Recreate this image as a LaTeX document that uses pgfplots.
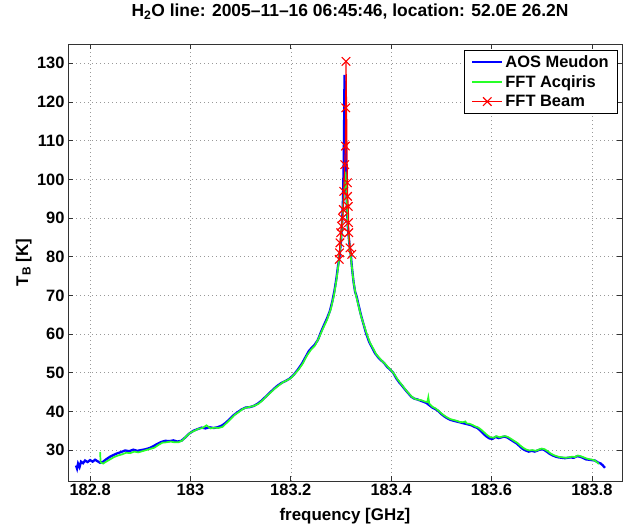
\documentclass[border=0pt]{standalone}
\usepackage{fontspec}
\setmainfont{Liberation Sans}
\usepackage{pgfplots}
\pgfplotsset{compat=1.18}
\definecolor{aosblue}{RGB}{0,0,255}
\definecolor{fftgreen}{RGB}{40,255,40}
\definecolor{beamred}{RGB}{255,0,0}

\begin{document}
\begin{tikzpicture}
\useasboundingbox (0,0) rectangle (630bp,528bp);
\begin{axis}[
  at={(68bp,47bp)}, anchor=south west,
  scale only axis, width=554bp, height=437bp,
  xmin=182.756, xmax=183.86,
  ymin=22, ymax=135,
  xtick={182.8,183,183.2,183.4,183.6,183.8},
  xticklabels={182.8,183,183.2,183.4,183.6,183.8},
  ytick={30,40,...,130},
  yticklabels={30,40,50,60,70,80,90,100,110,120,130},
  /pgf/number format/assume math mode=true,
  tick align=inside,
  major tick length=5bp,
  tick style={black!80, line width=0.7bp},
  axis line style={black!80, line width=0.8bp},
  grid=major,
  major grid style={gray!80, line width=0.6bp, dash pattern=on 1bp off 3bp},
  ticklabel style={font=\fontsize{16.5}{19}\selectfont\bfseries},
  xlabel={frequency [GHz]},
  ylabel={T\textsubscript{B} [K]},
  label style={font=\fontsize{17}{20}\selectfont\bfseries},
  xlabel style={at={(axis description cs:0.5,-0.08)}, anchor=center},
  ylabel style={at={(axis description cs:-0.08,0.5)}, anchor=center, rotate=0},
  title={H\textsubscript{2}O line: 2005--11--16 06:45:46, location: 52.0E 26.2N},
  title style={font=\fontsize{17.5}{20}\selectfont\bfseries, at={(axis description cs:0.509,1.0595)}, anchor=center},
  legend style={draw=black, line width=0.8bp, fill=white,
    font=\fontsize{16.5}{20}\selectfont\bfseries,
    at={(rel axis cs:0.9928,0.9863)}, anchor=north east,
    inner xsep=7bp, inner ysep=3bp, row sep=2.5bp},
  legend cell align=left,
  legend image code/.code={
    \draw[mark repeat=2,mark phase=2,#1] plot coordinates {(0bp,0bp) (15bp,0bp) (30bp,0bp)};},
]
% AOS Meudon
\addplot[aosblue, line width=2.3bp] coordinates {
(182.772,26.0) (182.774,25.2) (182.776,26.5) (182.779,25.6) (182.782,27.0) (182.786,26.6)
(182.790,27.3) (182.795,26.9) (182.800,27.4) (182.805,27.0) (182.810,27.5) (182.815,27.1)
(182.820,26.7) (182.826,27.0) (182.832,27.6) (182.840,28.3) (182.848,28.8) (182.855,29.2)
(182.862,29.5) (182.870,29.9) (182.878,29.7) (182.886,30.1) (182.894,29.8) (182.902,30.0)
(182.910,30.2) (182.918,30.5) (182.926,31.0) (182.934,31.6) (182.942,32.1) (182.950,32.4)
(182.958,32.3) (182.966,32.5) (182.974,32.2) (182.982,32.4) (182.990,33.3) (182.998,34.3)
(183.006,35.0) (183.014,35.4) (183.022,35.8) (183.030,35.6) (183.038,35.9) (183.046,35.7)
(183.054,35.9) (183.062,36.3) (183.070,37.0) (183.078,38.0) (183.086,39.0) (183.094,39.8)
(183.102,40.5) (183.110,41.0) (183.118,41.1) (183.126,41.4) (183.134,42.0) (183.142,42.8)
(183.150,43.8) (183.158,44.8) (183.166,45.8) (183.174,46.7) (183.182,47.4) (183.190,47.9)
(183.198,48.5) (183.206,49.5) (183.214,50.8) (183.222,52.3) (183.230,54.2) (183.236,55.6)
(183.242,56.5) (183.248,57.3) (183.254,58.5) (183.260,60.5) (183.266,62.3) (183.272,64.0)
(183.278,66.0) (183.283,68.6) (183.287,71.2) (183.291,74.5) (183.294,77.5) (183.297,80.0)
(183.300,84.0) (183.302,88.0) (183.304,95.0) (183.3055,105) (183.3065,118) (183.307,127)
(183.3085,115) (183.310,100) (183.312,92) (183.314,87) (183.317,83) (183.3195,80.5)
(183.322,77.0) (183.325,73.5) (183.328,71.0) (183.331,69.8) (183.335,67.5) (183.340,64.8)
(183.345,62.5) (183.350,60.2) (183.356,58.0) (183.362,56.5) (183.368,55.0) (183.374,54.0)
(183.380,53.2) (183.386,52.5) (183.392,51.5) (183.398,50.8) (183.404,50.0) (183.410,48.6)
(183.416,47.5) (183.422,46.6) (183.428,45.6) (183.434,44.7) (183.440,43.8) (183.446,43.3)
(183.452,43.1) (183.458,42.8) (183.464,42.5) (183.470,42.2) (183.476,41.6) (183.482,41.0)
(183.488,40.6) (183.494,40.1) (183.500,39.3) (183.506,38.7) (183.512,38.2) (183.518,37.8)
(183.524,37.6) (183.530,37.4) (183.536,37.2) (183.542,37.0) (183.548,36.8) (183.554,36.6)
(183.560,36.4) (183.566,36.0) (183.572,35.7) (183.578,35.0) (183.584,34.2) (183.590,33.5)
(183.596,33.0) (183.602,32.9) (183.608,33.4) (183.614,33.1) (183.620,33.3) (183.626,33.5)
(183.632,33.2) (183.638,32.7) (183.644,32.2) (183.650,31.7) (183.656,31.0) (183.662,30.3)
(183.668,29.9) (183.674,29.6) (183.680,29.8) (183.686,29.6) (183.692,29.9) (183.698,30.2)
(183.704,30.1) (183.710,29.6) (183.716,29.0) (183.722,28.6) (183.728,28.3) (183.734,28.1)
(183.740,28.0) (183.746,27.9) (183.752,28.0) (183.758,28.1) (183.764,28.0) (183.770,28.4)
(183.776,28.3) (183.782,28.0) (183.788,27.6) (183.794,27.5) (183.800,27.4) (183.806,27.3)
(183.812,26.8) (183.818,26.5) (183.822,26.0) (183.826,25.4)
};
\addlegendentry{AOS Meudon}
% FFT Acqiris
\addplot[fftgreen, line width=1.7bp] coordinates {
(182.820,29.5) (182.821,26.8) (182.826,26.5) (182.832,27.0) (182.840,27.6) (182.848,28.2)
(182.856,28.6) (182.864,28.9) (182.872,29.3) (182.880,29.2) (182.888,29.6) (182.896,29.4)
(182.904,29.7) (182.912,30.0) (182.920,30.3) (182.928,30.6) (182.936,31.3) (182.944,31.9)
(182.952,32.0) (182.960,32.2) (182.968,32.0) (182.976,32.0) (182.984,32.5) (182.992,33.6)
(183.000,34.5) (183.008,35.0) (183.016,35.5) (183.024,35.7) (183.032,36.4) (183.040,35.6)
(183.048,35.8) (183.056,35.7) (183.064,36.0) (183.072,37.0) (183.080,38.0) (183.088,39.1)
(183.096,39.8) (183.104,40.6) (183.112,41.0) (183.120,41.2) (183.128,41.5) (183.136,42.0)
(183.144,42.9) (183.152,44.0) (183.160,44.9) (183.168,45.9) (183.176,46.7) (183.184,47.5)
(183.192,48.0) (183.200,48.6) (183.208,49.7) (183.216,50.9) (183.224,52.4) (183.232,54.4)
(183.240,55.9) (183.248,57.0) (183.256,59.0) (183.264,61.4) (183.272,63.6) (183.280,66.6)
(183.286,70.0) (183.291,74.0) (183.295,78.0) (183.298,82.0) (183.301,86.5) (183.304,92.0)
(183.3065,98.0) (183.309,102.0) (183.311,97.0) (183.313,90.0) (183.316,84.5) (183.319,80.5)
(183.322,77.0) (183.325,73.5) (183.329,70.5) (183.334,67.8) (183.340,64.6) (183.346,62.2)
(183.352,59.8) (183.358,57.7) (183.364,56.3) (183.370,54.8) (183.376,53.9) (183.382,53.0)
(183.388,52.3) (183.394,51.4) (183.400,50.6) (183.406,49.7) (183.412,48.4) (183.418,47.4)
(183.424,46.4) (183.430,45.4) (183.436,44.5) (183.442,43.7) (183.448,43.2) (183.454,43.0)
(183.460,42.9) (183.466,42.6) (183.472,42.4) (183.474,43.7) (183.476,42.0) (183.482,41.2)
(183.488,40.8) (183.494,40.2) (183.500,39.5) (183.506,38.9) (183.512,38.4) (183.518,38.0)
(183.524,37.8) (183.530,37.6) (183.536,37.3) (183.542,37.2) (183.548,37.4) (183.550,36.9)
(183.556,36.8) (183.562,36.5) (183.568,36.1) (183.574,35.8) (183.580,35.2) (183.586,34.5)
(183.592,33.8) (183.598,33.3) (183.604,33.2) (183.610,33.6) (183.616,33.3) (183.622,33.5)
(183.628,33.6) (183.634,33.3) (183.640,32.8) (183.646,32.3) (183.652,31.8) (183.658,31.1)
(183.664,30.5) (183.670,30.1) (183.676,29.9) (183.682,30.0) (183.688,29.8) (183.694,30.1)
(183.700,30.4) (183.706,30.2) (183.712,29.7) (183.718,29.1) (183.724,28.7) (183.730,28.4)
(183.736,28.2) (183.742,28.1) (183.748,28.0) (183.754,28.1) (183.760,28.3) (183.766,28.2)
(183.772,28.6) (183.778,28.4) (183.784,28.1) (183.790,27.8) (183.796,27.6) (183.802,27.5)
(183.808,27.1) (183.814,26.4)
};
\addlegendentry{FFT Acqiris}
% FFT Beam
\addplot[beamred, line width=1.2bp, mark=x, mark size=6bp, mark options={beamred, line width=1.1bp}] coordinates {
(183.2965,79.3) (183.2970,81.0) (183.2980,83.6) (183.2995,86.2) (183.3010,87.9)
(183.3030,90.0) (183.3045,92.2) (183.3055,96.9) (183.3075,103.8) (183.3088,108.6)
(183.3095,118.5) (183.3100,130.5) (183.3127,99.1) (183.3132,95.6) (183.3146,93.0)
(183.3150,88.8) (183.3155,86.2) (183.3180,82.3) (183.3214,80.6)
};
\addlegendentry{FFT Beam}
\end{axis}
\end{tikzpicture}
\end{document}
